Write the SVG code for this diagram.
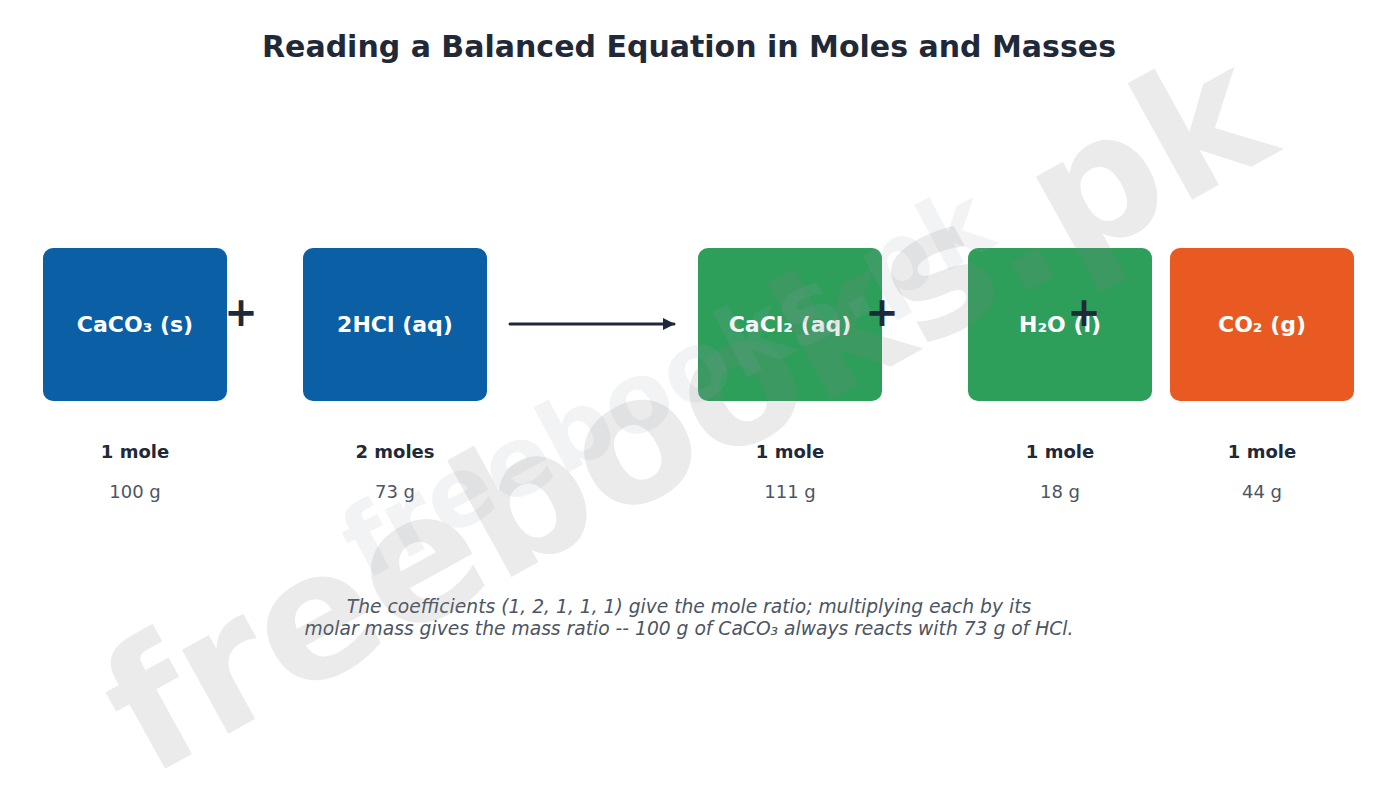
<svg xmlns="http://www.w3.org/2000/svg" width="1378" height="792" viewBox="0 0 1378 792">
<defs>
<style>
.title{font-family:"DejaVu Sans",sans-serif;font-weight:bold;font-size:30px;fill:#1f2937;text-anchor:middle}
.box{stroke:none}
.blue{fill:#0b5fa5}
.green{fill:#2e9e5b}
.orange{fill:#e85a22}
.lbl{font-family:"DejaVu Sans",sans-serif;font-weight:bold;font-size:22px;fill:#ffffff;text-anchor:middle}
.mole{font-family:"DejaVu Sans",sans-serif;font-weight:bold;font-size:18px;fill:#1f2937;text-anchor:middle}
.mass{font-family:"DejaVu Sans",sans-serif;font-size:18px;fill:#4b5563;text-anchor:middle}
.op{font-family:"DejaVu Sans",sans-serif;font-weight:bold;font-size:40px;fill:#1f2937;text-anchor:middle}
.cap{font-family:"DejaVu Sans",sans-serif;font-style:italic;font-size:18.7px;fill:#4b5563;text-anchor:middle}
.wm{font-family:"DejaVu Sans",sans-serif;font-weight:bold;text-anchor:middle}
</style>
<marker id="ah" viewBox="0 0 12 12" refX="11" refY="6" markerWidth="12" markerHeight="12" markerUnits="userSpaceOnUse" orient="auto">
<path d="M0,0 L12,6 L0,12 Z" fill="#1f2937"/>
</marker>
</defs>
<rect width="1378" height="792" fill="#ffffff"/>
<text class="title" x="689" y="57">Reading a Balanced Equation in Moles and Masses</text>

<g id="connectors">
<line x1="510" y1="324" x2="674" y2="324" stroke="#1f2937" stroke-width="3" stroke-linecap="round" marker-end="url(#ah)"/>
</g>

<g id="caco3">
<rect class="box blue" x="43" y="248" width="184" height="153" rx="10"/>
<text class="lbl" x="135" y="332">CaCO₃ (s)</text>
<text class="mole" x="135" y="458">1 mole</text>
<text class="mass" x="135" y="498">100 g</text>
</g>
<g id="hcl">
<rect class="box blue" x="303" y="248" width="184" height="153" rx="10"/>
<text class="lbl" x="395" y="332">2HCl (aq)</text>
<text class="mole" x="395" y="458">2 moles</text>
<text class="mass" x="395" y="498">73 g</text>
</g>
<g id="cacl2">
<rect class="box green" x="698" y="248" width="184" height="153" rx="10"/>
<text class="lbl" x="790" y="332">CaCl₂ (aq)</text>
<text class="mole" x="790" y="458">1 mole</text>
<text class="mass" x="790" y="498">111 g</text>
</g>
<g id="h2o">
<rect class="box green" x="968" y="248" width="184" height="153" rx="10"/>
<text class="lbl" x="1060" y="332">H₂O (l)</text>
<text class="mole" x="1060" y="458">1 mole</text>
<text class="mass" x="1060" y="498">18 g</text>
</g>
<g id="co2">
<rect class="box orange" x="1170" y="248" width="184" height="153" rx="10"/>
<text class="lbl" x="1262" y="332">CO₂ (g)</text>
<text class="mole" x="1262" y="458">1 mole</text>
<text class="mass" x="1262" y="498">44 g</text>
</g>

<g id="operators">
<text class="op" x="241" y="326">+</text>
<text class="op" x="882" y="326">+</text>
<text class="op" x="1084" y="326">+</text>
</g>

<g id="caption">
<text class="cap" x="689" y="613">The coefficients (1, 2, 1, 1, 1) give the mole ratio; multiplying each by its</text>
<text class="cap" x="689" y="635">molar mass gives the mass ratio -- 100 g of CaCO₃ always reacts with 73 g of HCl.</text>
</g>

<g id="watermark">
<text class="wm" transform="translate(715,464) rotate(-29)" font-size="175" fill="#808080" fill-opacity="0.16">freebooks.pk</text>
<text class="wm" transform="translate(682,412) rotate(-28)" font-size="97" fill="#9ca3af" fill-opacity="0.13">freebooks.pk</text>
</g>
</svg>
